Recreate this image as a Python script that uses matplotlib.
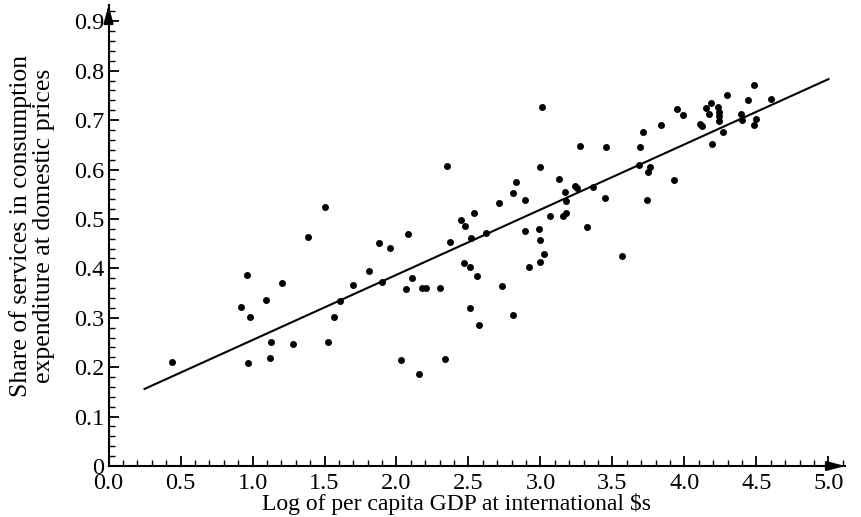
import matplotlib
matplotlib.use("Agg")
import matplotlib.pyplot as plt
from matplotlib.ticker import MultipleLocator, FixedLocator, FixedFormatter
from matplotlib.patches import FancyArrowPatch

plt.rcParams['font.family'] = ['Liberation Serif', 'DejaVu Serif']

log_gdp = [0.439, 0.962, 1.205, 1.383, 1.503, 1.094, 0.920, 0.983, 1.606, 1.566,
           1.131, 1.283, 1.524, 0.969, 1.124,
           2.353, 2.999, 2.830, 2.809, 2.892, 2.714, 3.131, 3.168, 3.175, 3.240,
           3.251, 3.367, 3.446, 3.158, 3.175, 3.066, 3.321, 3.568, 2.536, 2.446,
           2.478, 2.519, 2.624, 2.369, 2.894, 2.992, 2.999, 3.026, 2.999, 2.920,
           2.082, 1.878, 1.957, 1.811, 1.897, 1.696, 2.110, 2.066, 2.179, 2.205,
           2.300, 2.471, 2.508, 2.557, 2.733, 2.510, 2.571, 2.807, 2.031, 2.335,
           2.154,
           4.481, 4.293, 4.443, 4.601, 4.186, 4.149, 4.231, 3.992, 4.172, 4.242,
           4.242, 4.242, 3.948, 4.108, 4.119, 4.265, 4.193, 4.392, 4.399, 4.499,
           4.485, 3.837, 3.710, 3.691, 3.453, 3.682, 3.763, 3.749, 3.927, 3.740,
           3.010, 3.277]
service_share = [0.210, 0.386, 0.370, 0.463, 0.525, 0.337, 0.322, 0.302, 0.333, 0.301,
                 0.250, 0.247, 0.251, 0.209, 0.219,
                 0.607, 0.605, 0.575, 0.553, 0.538, 0.532, 0.580, 0.555, 0.537, 0.567,
                 0.563, 0.565, 0.542, 0.507, 0.513, 0.505, 0.484, 0.425, 0.512, 0.497,
                 0.485, 0.461, 0.472, 0.454, 0.475, 0.480, 0.457, 0.430, 0.412, 0.403,
                 0.470, 0.451, 0.442, 0.395, 0.372, 0.367, 0.381, 0.358, 0.360, 0.360,
                 0.360, 0.410, 0.403, 0.385, 0.365, 0.320, 0.286, 0.305, 0.215, 0.216,
                 0.186,
                 0.772, 0.751, 0.741, 0.742, 0.735, 0.725, 0.726, 0.711, 0.713, 0.717,
                 0.708, 0.699, 0.722, 0.692, 0.688, 0.676, 0.651, 0.712, 0.701, 0.703,
                 0.690, 0.690, 0.675, 0.646, 0.646, 0.609, 0.605, 0.595, 0.578, 0.538,
                 0.726, 0.648]

fit_x = [0.25, 5.0]
fit_y = [0.156, 0.783]

x_ticks = [0.0, 0.5, 1.0, 1.5, 2.0, 2.5, 3.0, 3.5, 4.0, 4.5, 5.0]
x_tick_labels = ["0.0", "0.5", "1.0", "1.5", "2.0", "2.5", "3.0", "3.5", "4.0", "4.5", "5.0"]
y_ticks = [0.0, 0.1, 0.2, 0.3, 0.4, 0.5, 0.6, 0.7, 0.8, 0.9]
y_tick_labels = ["0", "0.1", "0.2", "0.3", "0.4", "0.5", "0.6", "0.7", "0.8", "0.9"]

fig = plt.figure(figsize=(8.62, 5.17), dpi=100)
ax = fig.add_axes([0.1259, 0.0986, 0.8544, 0.8917])

ax.scatter(log_gdp, service_share, s=25, color='black', zorder=3, linewidths=0)
ax.plot(fit_x, fit_y, color='black', linewidth=1.5, zorder=2)

ax.set_xlim(0, 5.115)
ax.set_ylim(0, 0.933)

for s in ['top', 'right']:
    ax.spines[s].set_visible(False)
for s in ['left', 'bottom']:
    ax.spines[s].set_linewidth(1.5)

ax.xaxis.set_major_locator(FixedLocator(x_ticks))
ax.xaxis.set_major_formatter(FixedFormatter(x_tick_labels))
ax.yaxis.set_major_locator(FixedLocator(y_ticks))
ax.yaxis.set_major_formatter(FixedFormatter(y_tick_labels))
ax.xaxis.set_minor_locator(MultipleLocator(0.1))
ax.yaxis.set_minor_locator(MultipleLocator(0.02))

ax.tick_params(which='major', direction='in', length=7, width=1.3, labelsize=17.5)
ax.tick_params(which='minor', direction='in', length=4.5, width=1.0)
ax.tick_params(axis='x', which='major', pad=5)
ax.tick_params(axis='y', which='major', pad=3)

# arrows at the axis ends
arrow_style = '-|>,head_length=0.6,head_width=0.16'
ax.add_patch(FancyArrowPatch((0.97, 0), (1.0, 0), transform=ax.transAxes,
                             arrowstyle=arrow_style, mutation_scale=18,
                             color='black', lw=1.5, clip_on=False,
                             shrinkA=0, shrinkB=0, zorder=5))
ax.add_patch(FancyArrowPatch((0, 0.97), (0, 1.0), transform=ax.transAxes,
                             arrowstyle=arrow_style, mutation_scale=18,
                             color='black', lw=1.5, clip_on=False,
                             shrinkA=0, shrinkB=0, zorder=5))

ax.set_xlabel("Log of per capita GDP at international $s", fontsize=17, labelpad=-3)
ax.xaxis.set_label_coords(0.472, -0.058, transform=ax.transAxes)
ax.xaxis.label.set_va('top')
ax.set_ylabel("Share of services in consumption\nexpenditure at domestic prices",
              fontsize=18.5, labelpad=14, linespacing=1.05)
ax.yaxis.label.set_y(0.52)

fig.savefig("out.png", dpi=100)
